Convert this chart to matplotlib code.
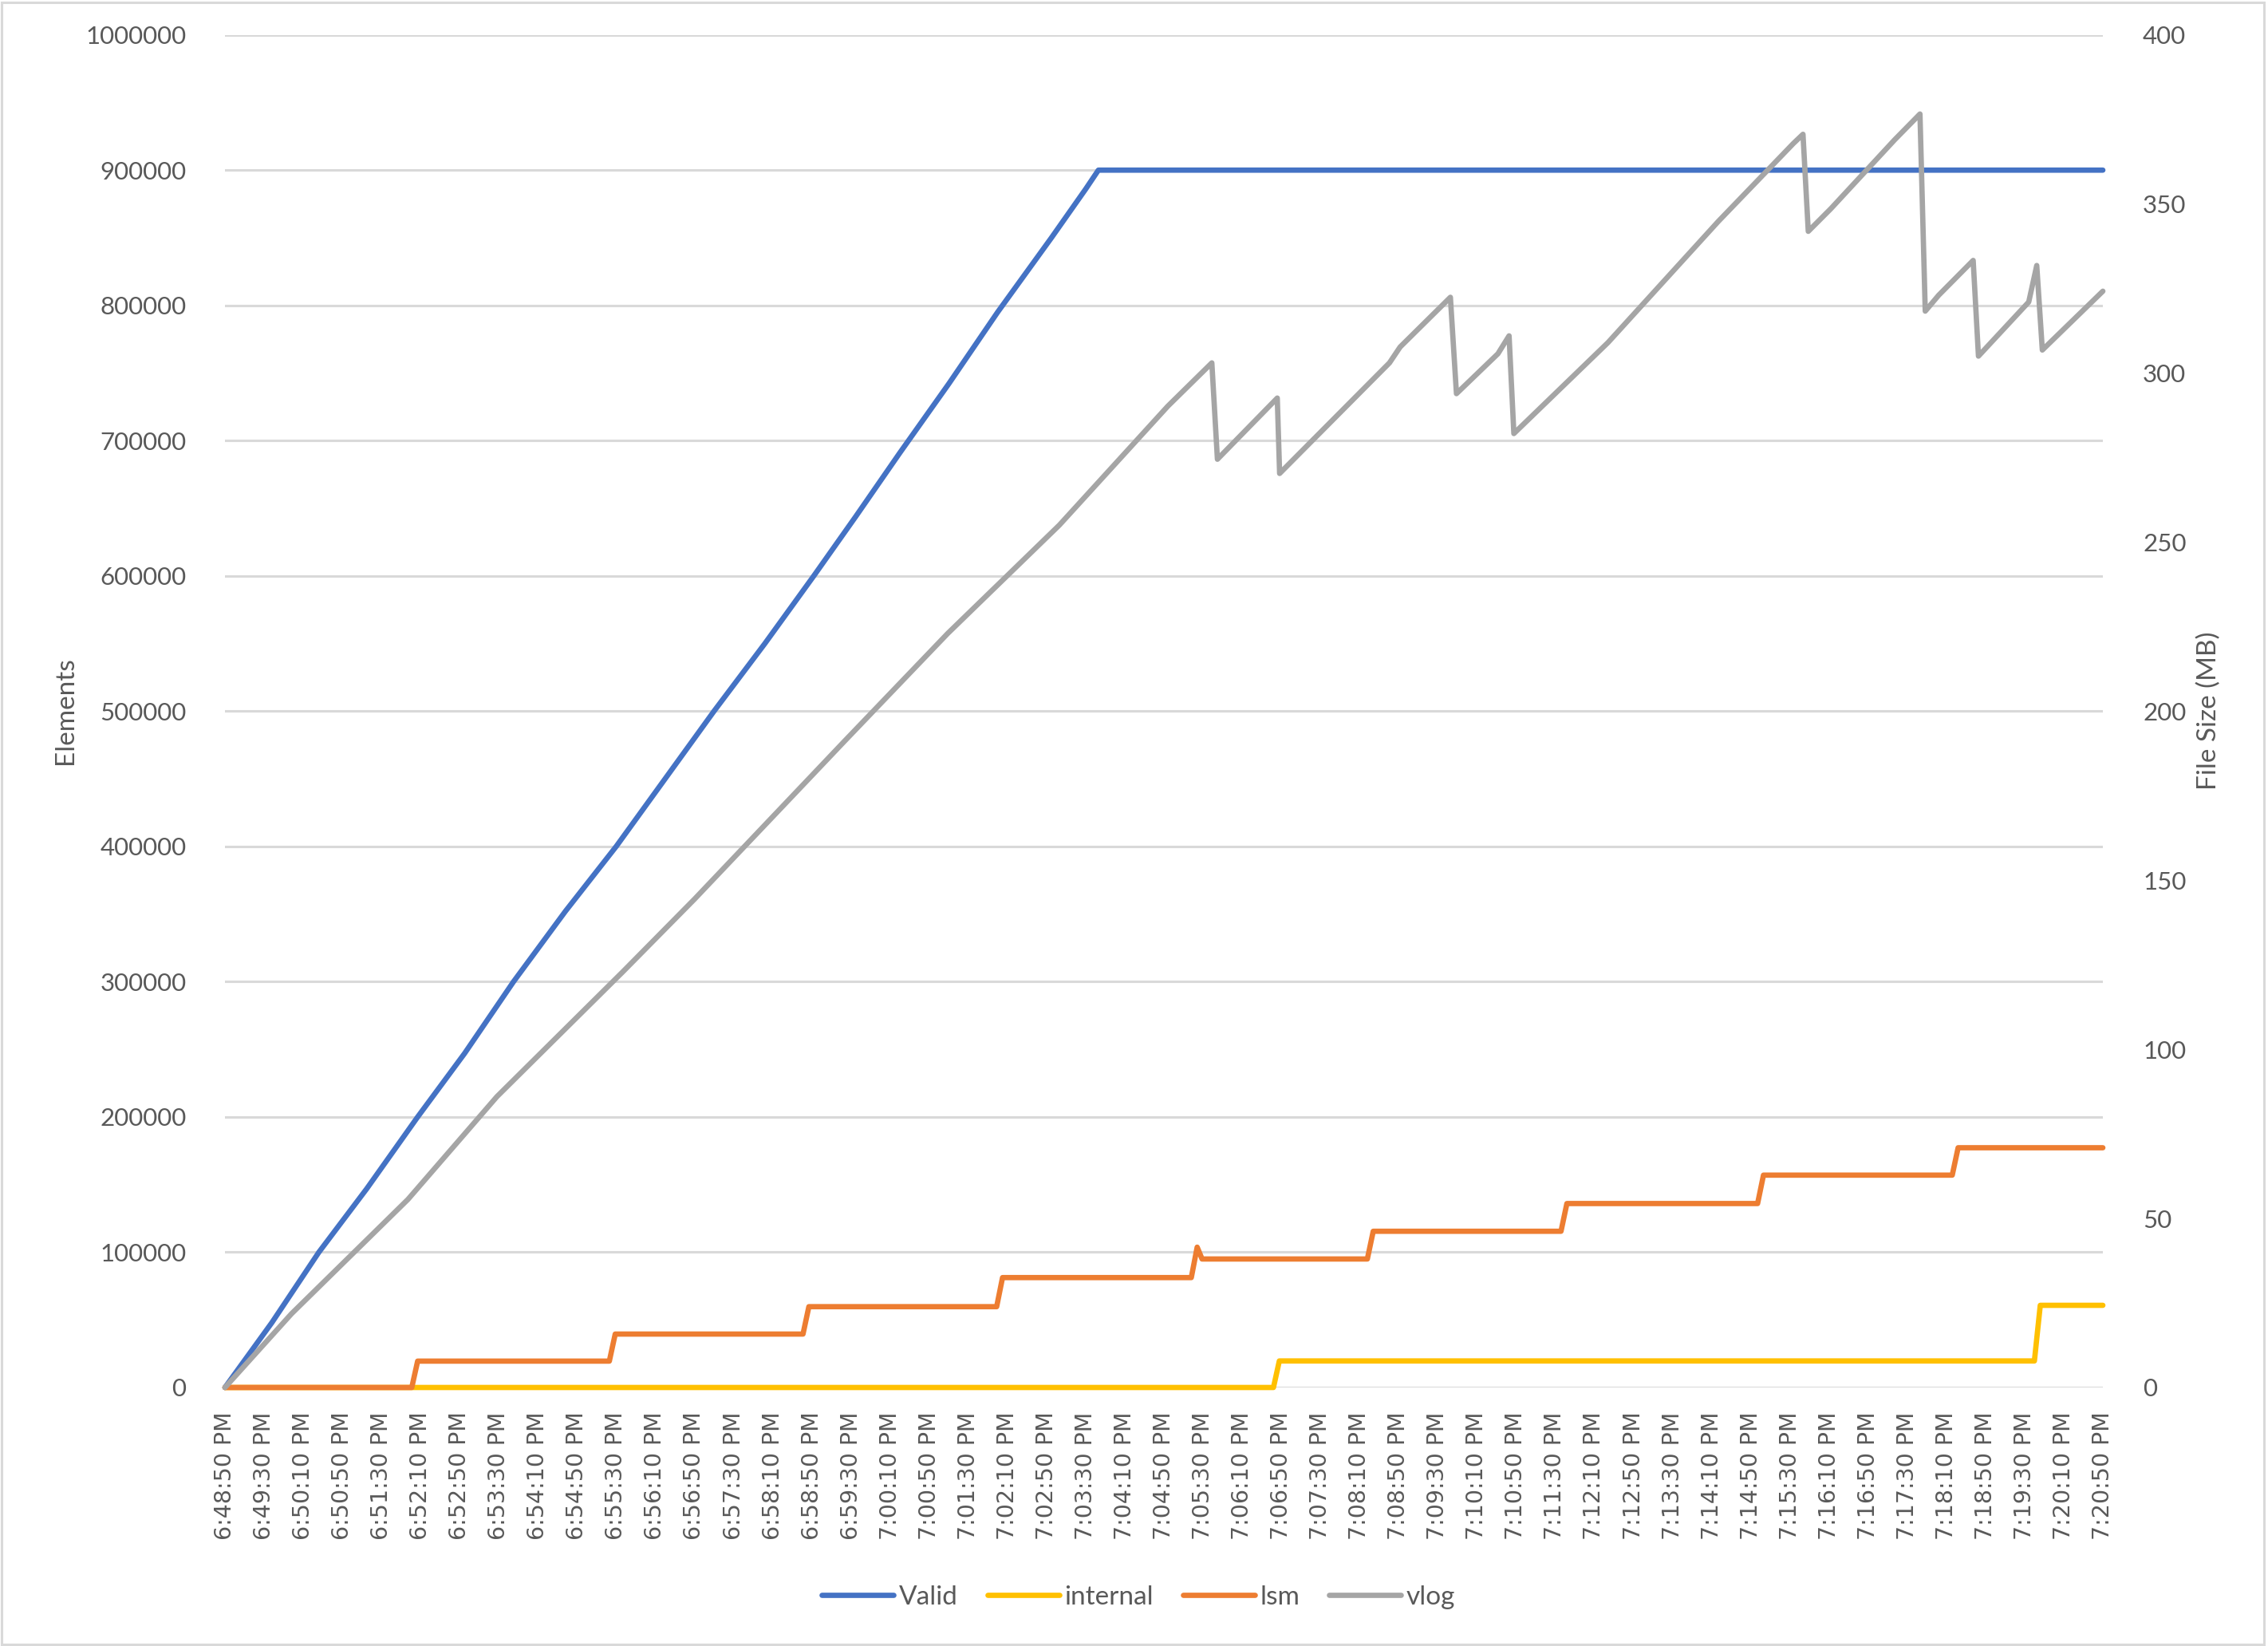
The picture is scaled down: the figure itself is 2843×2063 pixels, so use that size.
import matplotlib
matplotlib.use("Agg")
import matplotlib.pyplot as plt
from matplotlib.patches import Rectangle
from matplotlib.lines import Line2D
import datetime as dt

# ---- data (t = seconds after 6:48:50 PM) ----
valid_t = [0, 20, 48, 96, 145, 197, 245, 295, 348, 400, 450, 500, 552, 602, 645, 690, 740, 790, 845, 880, 893, 1920]
valid_v = [0, 20000, 48000, 100000, 147000, 200000, 247000, 300000, 352000, 400000, 450000, 500000, 550000,
           600000, 644000, 691000, 742000, 795000, 850000, 886000, 900000, 900000]

internal_t = [0, 1072, 1078, 1850, 1856, 1920]
internal_v = [0, 0, 7.85, 7.85, 24.3, 24.3]

lsm_t = [0, 191, 197, 393, 399, 591, 597, 789, 795, 988, 994, 999, 1168, 1174, 1366, 1372, 1567, 1573,
         1766, 1772, 1920]
lsm_v = [0, 0, 7.8, 7.8, 15.8, 15.8, 23.9, 23.9, 32.5, 32.5, 41.5, 38.0, 38.0, 46.2, 46.2, 54.4, 54.4,
         62.8, 62.8, 70.9, 70.9]

vlog_t = [0, 68, 187, 278, 407, 480, 633, 739, 853, 964, 1009, 1014.7, 1075.9, 1078.3, 1190.6, 1201.5,
          1252.9, 1259.1, 1301.5, 1312.9, 1317.8, 1414, 1527, 1603.6, 1613.4, 1618.8, 1641.9, 1707.2,
          1733, 1738.4, 1752.1, 1787.4, 1792.8, 1844.2, 1852.4, 1858.1, 1920]
vlog_v = [0, 21.8, 55.6, 86, 123, 144.4, 191, 223, 255, 290.2, 303, 274.5, 292.6, 270.3, 303, 307.7,
          322.4, 293.9, 305.7, 311, 282.1, 309, 344.9, 367.9, 370.6, 341.9, 348.6, 369,
          376.6, 318.3, 323, 333.3, 305, 321, 331.8, 306.8, 324.2]

start_time = dt.datetime(2020, 1, 1, 18, 48, 50)
tick_secs = list(range(0, 1921, 40))
tick_labels = [(start_time + dt.timedelta(seconds=s)).strftime("%I:%M:%S %p").lstrip("0") for s in tick_secs]

left_ticks = [0, 100000, 200000, 300000, 400000, 500000, 600000, 700000, 800000, 900000, 1000000]
right_ticks = [0, 50, 100, 150, 200, 250, 300, 350, 400]

# ---- styling ----
W, H = 2843, 2063
fig = plt.figure(figsize=(W / 100, H / 100), dpi=100)
fig.patch.set_facecolor("white")
fig.add_artist(Rectangle((2 / W, 2 / H), 1 - 7 / W, 1 - 5 / H, transform=fig.transFigure,
                         fill=False, edgecolor="#D9D9D9", linewidth=2.2))

ax = fig.add_axes([282 / W, 1 - 1739 / H, (2636 - 282) / W, (1739 - 43.7) / H])
ax2 = ax.twinx()

c_valid, c_int, c_lsm, c_vlog = "#4472C4", "#FFC000", "#ED7D31", "#A5A5A5"
lw = 4.8
txt = "#595959"

for a in (ax, ax2):
    for s in a.spines.values():
        s.set_visible(False)
    a.tick_params(length=0)

ax.set_xlim(0, 1920)
ax.set_ylim(0, 1000000)
ax2.set_ylim(0, 400)
ax.set_yticks(left_ticks)
ax.set_yticklabels([str(v) for v in left_ticks], fontfamily="Lato", fontsize=22.5, color=txt)
ax2.set_yticks(right_ticks)
ax2.set_yticklabels([str(v) for v in right_ticks], fontfamily="Lato", fontsize=22.5, color=txt)
ax.tick_params(axis="y", pad=35)
ax2.tick_params(axis="y", pad=36)
ax.grid(axis="y", color="#D9D9D9", linewidth=2.2)
ax.set_axisbelow(True)

ax.set_xticks(tick_secs)
ax.set_xticklabels(tick_labels, rotation=90, fontfamily="DejaVu Sans", fontsize=20.5, color=txt)
ax.tick_params(axis="x", pad=22)

style = dict(lw=lw, solid_joinstyle="round", solid_capstyle="round", clip_on=False)
ax.plot(valid_t, valid_v, color=c_valid, zorder=6, **style)
ax2.plot(internal_t, internal_v, color=c_int, zorder=3, **style)
ax2.plot(lsm_t, lsm_v, color=c_lsm, zorder=4, **style)
ax2.plot(vlog_t, vlog_v, color=c_vlog, zorder=5, **style)

fig.text(82 / W, 1 - 891 / H, "Elements", rotation=90, ha="center", va="center",
         fontfamily="Lato", fontsize=24, color=txt)
fig.text(2769 / W, 1 - 891 / H, "File Size (MB)", rotation=90, ha="center", va="center",
         fontfamily="Lato", fontsize=24, color=txt)

handles = [Line2D([], [], color=c, lw=lw, solid_capstyle="round") for c in (c_valid, c_int, c_lsm, c_vlog)]
leg = fig.legend(handles, ["Valid", "internal", "lsm", "vlog"], loc="center",
                 bbox_to_anchor=(0.502, 1 - 2002 / H), ncol=4, frameon=False,
                 prop={"family": "Lato", "size": 24}, handlelength=2.7, handletextpad=0.2,
                 columnspacing=1.1)
for t in leg.get_texts():
    t.set_color(txt)

fig.savefig("out.png", dpi=100, facecolor="white")
